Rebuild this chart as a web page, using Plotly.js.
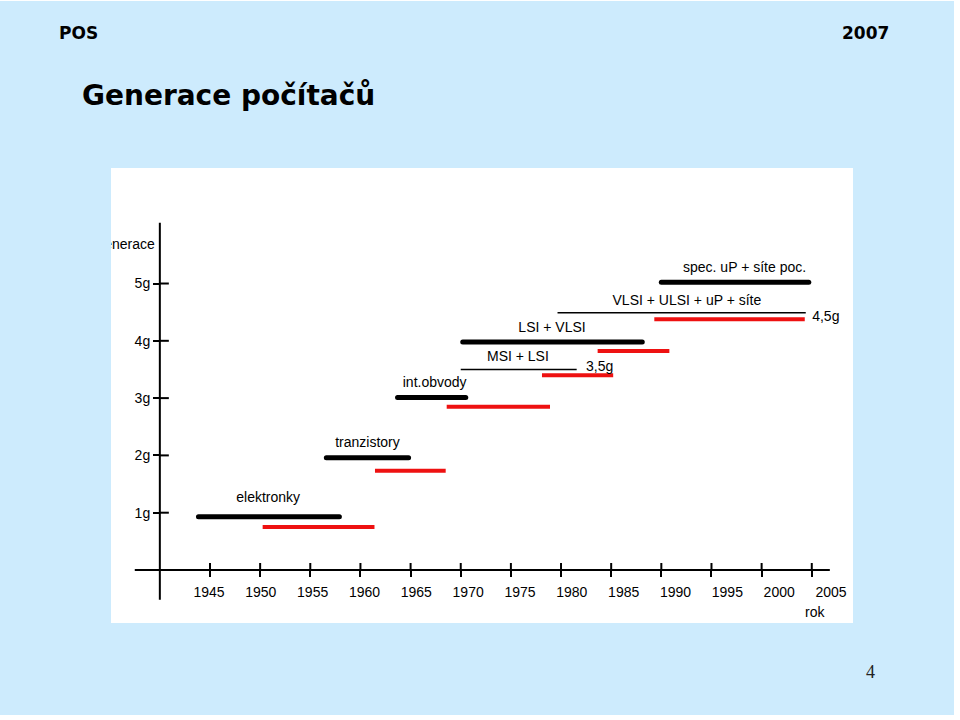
<!DOCTYPE html>
<html>
<head>
<meta charset="utf-8">
<script src="https://cdn.plot.ly/plotly-3.0.1.min.js"></script>
<style>
html,body{margin:0;padding:0;background:#fff}
#chart{width:960px;height:720px}
.traceblackbars path.js-line{stroke-linecap:round}
</style>
</head>
<body>
<div id="chart"></div>
<script>
// ---- data ----
const tickYears = [1945, 1950, 1955, 1960, 1965, 1970, 1975, 1980, 1985, 1990, 1995, 2000, 2005];
const tickLabels = ["1945", "1950", "1955", "1960", "1965", "1970", "1975", "1980", "1985", "1990", "1995", "2000", "2005"];
const genLevels = [1, 2, 3, 4, 5];
const genLabels = ["1g", "2g", "3g", "4g", "5g"];

// thick black bars (technology eras)
const blackStart = [1943.85, 1956.6, 1963.7, 1970.2, 1990.0];
const blackEnd   = [1957.9, 1964.8, 1970.5, 1988.1, 2004.7];
const blackLevel = [0.93, 1.96, 3.01, 3.98, 5.02];

// red bars (generations)
const redStart = [1950.25, 1961.45, 1968.6, 1978.1, 1983.65, 1989.3];
const redEnd   = [1961.4, 1968.5, 1978.9, 1985.2, 1990.8, 2004.3];
const redLevel = [0.75, 1.73, 2.85, 3.40, 3.82, 4.375];

// thin black lines
const thinStart = [1970.0, 1979.65];
const thinEnd   = [1981.56, 2004.4];
const thinLevel = [3.50, 4.49];

// labels
const labelText = ["elektronky", "tranzistory", "int.obvody", "MSI + LSI", "3,5g", "LSI + VLSI", "VLSI + ULSI + uP + síte", "4,5g", "spec. uP + síte poc."];
const labelYear = [1950.8, 1960.7, 1967.4, 1975.7, 1983.85, 1979.1, 1992.55, 2006.4, 1998.3];
const labelLevel = [1.24, 2.21, 3.25, 3.71, 3.54, 4.22, 4.68, 4.41, 5.27];

const yAxisTitle = "Generace";
const xAxisTitle = "rok";

// ---- layout helpers ----
const W = 960, H = 720;
const px = v => v / W, py = v => 1 - v / H;
const FONT = "Liberation Sans, Arial, sans-serif";

function segs(s, e, l) {
  const x = [], y = [];
  s.forEach((v, i) => { x.push(v, e[i], null); y.push(l[i], l[i], null); });
  return {x, y};
}
const b = segs(blackStart, blackEnd, blackLevel);
const r = segs(redStart, redEnd, redLevel);
const t = segs(thinStart, thinEnd, thinLevel);

const traces = [
  {x: r.x, y: r.y, mode: "lines", line: {color: "#ee1111", width: 4}, hoverinfo: "skip", uid: "redbars"},
  {x: t.x, y: t.y, mode: "lines", line: {color: "#000", width: 1.4}, hoverinfo: "skip", uid: "thinlines"},
  {x: b.x, y: b.y, mode: "lines", line: {color: "#000", width: 5}, hoverinfo: "skip", uid: "blackbars"},
  {x: labelYear, y: labelLevel, mode: "text", text: labelText, textposition: "middle center",
   textfont: {family: FONT, size: 14, color: "#000"}, hoverinfo: "skip"},
  {x: [1939.5], y: [5.67], mode: "text", text: [yAxisTitle], textposition: "middle left",
   textfont: {family: FONT, size: 14, color: "#000"}, hoverinfo: "skip", cliponaxis: true},
  {x: [tickYears[0]], y: [null], xaxis: "x2", yaxis: "y", mode: "markers", hoverinfo: "skip"}
];

// axis line extents and origin
const xLineStart = 1937.5, xLineEnd = 2006.8, yOriginYear = 1940;
const yLineBottom = -0.52, yLineTop = 6.06;

const shapes = [
  {type: "rect", xref: "paper", yref: "paper", x0: 0, x1: px(954), y0: py(715), y1: py(1),
   fillcolor: "#cdebfd", line: {width: 0}, layer: "below"},
  {type: "rect", xref: "paper", yref: "paper", x0: px(111), x1: px(853), y0: py(623), y1: py(168),
   fillcolor: "#ffffff", line: {width: 0}, layer: "below"},
  {type: "line", xref: "x", yref: "y", x0: xLineStart, x1: xLineEnd, y0: 0, y1: 0, line: {color: "#000", width: 2}},
  {type: "line", xref: "x", yref: "y", x0: yOriginYear, x1: yOriginYear, y0: yLineBottom, y1: yLineTop, line: {color: "#000", width: 2}}
];
tickYears.forEach(v => shapes.push({type: "line", xref: "x", yref: "y", ysizemode: "pixel", yanchor: 0,
  x0: v, x1: v, y0: 0, y1: 7, line: {color: "#000", width: 2}}));
genLevels.forEach(v => shapes.push({type: "line", xref: "x", yref: "y", xsizemode: "pixel", xanchor: yOriginYear,
  x0: 0, x1: 9, y0: v, y1: v, line: {color: "#000", width: 2}}));

const layout = {
  width: W, height: H,
  margin: {l: 0, r: 0, t: 0, b: 0},
  paper_bgcolor: "#ffffff",
  plot_bgcolor: "rgba(0,0,0,0)",
  showlegend: false,
  xaxis: {domain: [px(111), px(853)], range: [1935.13, 2009.11], anchor: "free", position: py(570),
    showgrid: false, zeroline: false, showline: false, ticks: "outside", ticklen: 6, tickwidth: 2,
    tickcolor: "#000", tickvals: tickYears, showticklabels: false, fixedrange: true},
  xaxis2: {overlaying: "x", range: [1935.55, 2007.12], anchor: "free", position: py(570),
    showgrid: false, zeroline: false, showline: false, ticks: "", tickvals: tickYears, ticktext: tickLabels,
    tickfont: {family: FONT, size: 14, color: "#000"}, ticklabelstandoff: 12, side: "bottom", fixedrange: true},
  yaxis: {domain: [py(623), py(168)], range: [-0.925, 7.016], anchor: "free", position: px(159),
    showgrid: false, zeroline: false, showline: false, ticks: "outside", ticklen: 6, tickwidth: 2,
    tickcolor: "#000", tickvals: genLevels, ticktext: genLabels,
    tickfont: {family: FONT, size: 14, color: "#000"}, fixedrange: true},
  shapes: shapes,
  annotations: [
    {xref: "x", yref: "y", x: 2005.3, y: -0.73, text: xAxisTitle, showarrow: false,
     font: {family: FONT, size: 14, color: "#000"}},
    {xref: "paper", yref: "paper", x: px(57), y: py(33), xanchor: "left", yanchor: "middle", text: "<b>POS</b>",
     showarrow: false, font: {family: "DejaVu Sans", size: 17, color: "#000"}},
    {xref: "paper", yref: "paper", x: px(891), y: py(33), xanchor: "right", yanchor: "middle", text: "<b>2007</b>",
     showarrow: false, font: {family: "DejaVu Sans", size: 17, color: "#000"}},
    {xref: "paper", yref: "paper", x: px(80), y: py(96), xanchor: "left", yanchor: "middle", text: "<b>Generace počítačů</b>",
     showarrow: false, font: {family: "DejaVu Sans", size: 28, color: "#000"}},
    {xref: "paper", yref: "paper", x: px(870), y: py(672), xanchor: "center", yanchor: "middle", text: "4",
     showarrow: false, font: {family: "Liberation Serif", size: 18, color: "#222"}}
  ]
};

Plotly.newPlot("chart", traces, layout, {staticPlot: true, displayModeBar: false});
</script>
</body>
</html>
